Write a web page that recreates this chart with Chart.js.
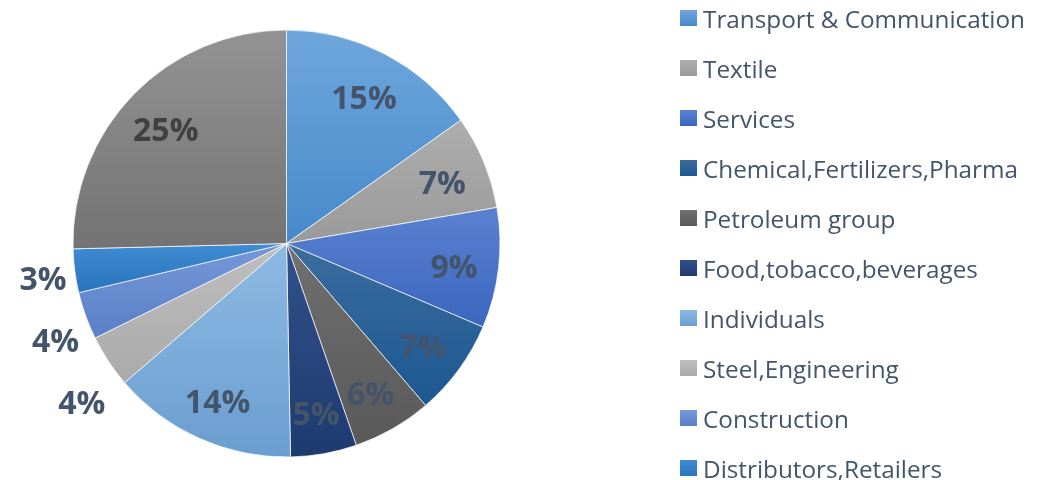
<!DOCTYPE html>
<html><head><meta charset="utf-8">
<script src="https://cdn.jsdelivr.net/npm/chart.js@4.4.0/dist/chart.umd.min.js"></script>
<style>
html,body{margin:0;padding:0;background:#fff;overflow:hidden;}
#wrap{position:relative;width:1051px;height:480px;overflow:hidden;background:#fff;}
#c{position:absolute;left:0;top:0;width:1051px;height:480px;}
#legend{position:absolute;left:680px;top:-7px;font-family:'Open Sans',sans-serif;font-size:24.3px;color:#44546A;}
.item{display:flex;align-items:center;height:50px;white-space:nowrap;}
.sw{width:17px;height:16px;margin-right:6px;flex:none;}
</style></head><body>
<div id="wrap"><canvas id="c" width="1051" height="480"></canvas><div id="legend"></div></div>
<script>
const categories = ['Transport & Communication','Textile','Services','Chemical,Fertilizers,Pharma','Petroleum group','Food,tobacco,beverages','Individuals','Steel,Engineering','Construction','Distributors,Retailers','Others'];
const shares = [15.2, 7.1, 9.1, 7.3, 6.0, 5.0, 14.0, 4.0, 3.6, 3.3, 25.4];
const topColors = ['#6FA7DC','#ADADAD','#5B82D1','#3B6C9E','#707070','#32518A','#8DBAE3','#BEBEBE','#7598D8','#3F8CD2','#939393'];
const bottomColors = ['#4689CB','#9A9A9A','#3A66BE','#1C5891','#595959','#1E3B70','#6A9ED0','#AAAAAA','#5A7FC7','#2A74BD','#737373'];
const labelColors = ['#44546A','#44546A','#44546A','#44546A','#44546A','#44546A','#44546A','#44546A','#44546A','#44546A','#404040'];

const total = shares.reduce((s, v) => s + v, 0);

function sliceGradient(ctx) {
  const chart = ctx.chart;
  const a = chart.chartArea;
  const i = ctx.dataIndex;
  if (!a || ctx.type !== 'data') return bottomColors[i];
  const cx = (a.left + a.right) / 2, cy = (a.top + a.bottom) / 2;
  const r = (Math.min(a.width, a.height) - 1) / 2;
  let start = 0;
  for (let k = 0; k < i; k++) start += shares[k];
  const a0 = start / total * 2 * Math.PI, a1 = (start + shares[i]) / total * 2 * Math.PI;
  let ymin = cy, ymax = cy;
  for (let k = 0; k <= 60; k++) {
    const t = a0 + (a1 - a0) * k / 60;
    const y = cy - r * Math.cos(t);
    ymin = Math.min(ymin, y); ymax = Math.max(ymax, y);
  }
  const g = chart.ctx.createLinearGradient(0, ymin, 0, ymax);
  g.addColorStop(0, topColors[i]);
  g.addColorStop(1, bottomColors[i]);
  return g;
}

const pctLabels = {
  id: 'pctLabels',
  afterDatasetsDraw(chart) {
    const ctx = chart.ctx;
    const meta = chart.getDatasetMeta(0);
    const size = 32;
    const base = size * 0.357 + 4;
    ctx.save();
    ctx.font = 'bold ' + size + 'px "Open Sans"';
    ctx.textAlign = 'center';
    ctx.textBaseline = 'alphabetic';
    const outside = [];
    meta.data.forEach((arc, i) => {
      const p = arc.getProps(['x', 'y', 'startAngle', 'endAngle', 'outerRadius'], true);
      const mid = (p.startAngle + p.endAngle) / 2;
      const pct = shares[i] / total * 100;
      const text = Math.round(pct) + '%';
      if (pct < 4.5) {
        const rr = p.outerRadius * 1.15;
        outside.push({text, i, x: p.x + Math.cos(mid) * rr, y: p.y + Math.sin(mid) * rr});
      } else {
        const rr = p.outerRadius * 0.79;
        ctx.fillStyle = labelColors[i];
        ctx.fillText(text, p.x + Math.cos(mid) * rr, p.y + Math.sin(mid) * rr + base);
      }
    });
    outside.sort((u, v) => u.y - v.y);
    for (let k = 1; k < outside.length; k++) {
      if (outside[k].y < outside[k - 1].y + 62) outside[k].y = outside[k - 1].y + 62;
    }
    outside.forEach(o => {
      ctx.fillStyle = labelColors[o.i];
      ctx.fillText(o.text, o.x, o.y + base);
    });
    ctx.restore();
  }
};

const chart = new Chart(document.getElementById('c'), {
  type: 'pie',
  data: {
    labels: categories,
    datasets: [{
      data: shares,
      backgroundColor: sliceGradient,
      borderColor: 'rgba(255,255,255,0.7)',
      borderWidth: 1,
      hoverOffset: 0,
      offset: 0
    }]
  },
  options: {
    responsive: false,
    animation: false,
    events: [],
    layout: {padding: {left: 72.5, top: 29.5, right: 550.5, bottom: 22.5}},
    plugins: {legend: {display: false}, tooltip: {enabled: false}}
  },
  plugins: [pctLabels]
});

const legendEl = document.getElementById('legend');
categories.forEach((name, i) => {
  const item = document.createElement('div');
  item.className = 'item';
  const sw = document.createElement('span');
  sw.className = 'sw';
  sw.style.background = 'linear-gradient(' + topColors[i] + ',' + bottomColors[i] + ')';
  const tx = document.createElement('span');
  tx.textContent = name;
  item.appendChild(sw); item.appendChild(tx);
  legendEl.appendChild(item);
});
</script>
</body></html>
